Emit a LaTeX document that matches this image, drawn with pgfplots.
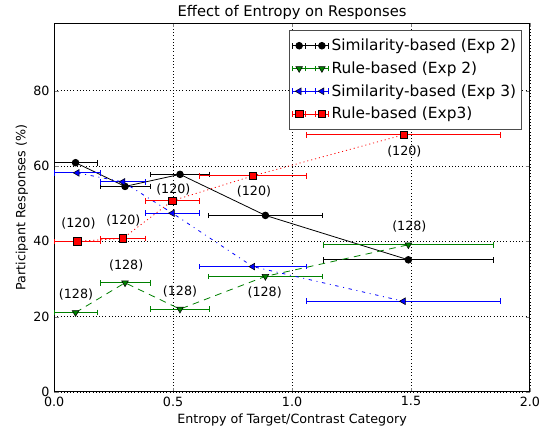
\documentclass[border=0pt]{standalone}
\usepackage{fontspec}
\setmainfont{DejaVu Sans}
\usepackage{pgfplots}
\pgfplotsset{compat=1.18}
\definecolor{mplgreen}{RGB}{0,128,0}

% legend sample: two markers, each with its own x error bar
\pgfplotsset{
  errleg/.style={legend image code/.code={
    \draw[##1, solid, mark=none] (0pt,0pt) -- (27pt,0pt);
    \draw[##1, solid, mark=none] (0pt,-2.1pt) -- (0pt,2.1pt) (10pt,-2.1pt) -- (10pt,2.1pt)
      (17pt,-2.1pt) -- (17pt,2.1pt) (27pt,-2.1pt) -- (27pt,2.1pt);
    \draw[##1, only marks] plot coordinates {(5pt,0pt) (22pt,0pt)};
  }},
  xerr/.style={error bars/.cd, x dir=both, x explicit,
    error bar style={solid, line width=0.6pt, color=#1},
    error mark=|, error mark options={solid, line width=0.6pt, mark size=2.1pt, color=#1},
    /pgfplots/.cd},
}

\begin{document}
\begin{tikzpicture}
\begin{axis}[
  scale only axis,
  width=356pt, height=276pt,
  xmin=0, xmax=2, ymin=0, ymax=98,
  xtick={0,0.5,1,1.5,2}, ytick={0,20,40,60,80},
  xticklabel style={/pgf/number format/.cd, fixed, fixed zerofill, precision=1},
  /pgf/number format/assume math mode=true,
  tick label style={font=\fontsize{9.5}{11}\selectfont},
  label style={font=\fontsize{9.5}{11}\selectfont},
  major tick length=3.3pt,
  axis line style={line width=0.7pt},
  grid=major, grid style={black, dotted, line width=0.5pt},
  title={Effect of Entropy on Responses},
  title style={font=\fontsize{11}{13}\selectfont, yshift=-7pt},
  xlabel={Entropy of Target/Contrast Category},
  ylabel={Participant Responses (\%)},
  xlabel style={yshift=1pt},
  ylabel style={yshift=-3pt},
  legend style={at={(1,1)}, anchor=north east, xshift=-6pt, yshift=-5pt,
    font=\fontsize{11.5}{13}\selectfont, draw=black!70, line width=0.7pt,
    row sep=2.8pt, inner xsep=2pt, inner ysep=4.5pt},
  legend cell align=left,
]
\addplot[errleg, black, line width=0.6pt, mark=*, mark size=2.5pt,
  mark options={solid, fill=black, draw=black}, xerr=black]
  coordinates {
  (0.090,60.9) +- (0.090,0)
  (0.298,54.6) +- (0.105,0)
  (0.529,57.8) +- (0.123,0)
  (0.888,46.9) +- (0.238,0)
  (1.489,35.1) +- (0.357,0)
};
\addlegendentry{Similarity-based (Exp 2)}

\addplot[errleg, mplgreen, line width=0.6pt, dash pattern=on 5pt off 4pt,
  mark=triangle*, mark size=2.9pt,
  mark options={solid, rotate=180, fill=mplgreen, draw=black, line width=0.4pt},
  xerr=mplgreen]
  coordinates {
  (0.090,21.1) +- (0.090,0)
  (0.298,29.0) +- (0.105,0)
  (0.529,22.0) +- (0.123,0)
  (0.888,30.7) +- (0.238,0)
  (1.489,39.1) +- (0.357,0)
};
\addlegendentry{Rule-based (Exp 2)}

\addplot[errleg, blue, line width=0.6pt, dash pattern=on 2.5pt off 3.5pt on 0.7pt off 3.5pt,
  mark=triangle*, mark size=2.9pt,
  mark options={solid, rotate=90, fill=blue, draw=black, line width=0.4pt},
  xerr=blue]
  coordinates {
  (0.097,58.2) +- (0.097,0)
  (0.289,55.8) +- (0.096,0)
  (0.497,47.5) +- (0.112,0)
  (0.835,33.3) +- (0.224,0)
  (1.468,24.1) +- (0.409,0)
};
\addlegendentry{Similarity-based (Exp 3)}

\addplot[errleg, red, line width=0.6pt, dash pattern=on 0.8pt off 2.2pt,
  mark=square*, mark size=2.7pt,
  mark options={solid, fill=red, draw=black, line width=0.4pt},
  xerr=red]
  coordinates {
  (0.097,40.0) +- (0.097,0)
  (0.289,40.8) +- (0.096,0)
  (0.497,50.8) +- (0.112,0)
  (0.835,57.4) +- (0.224,0)
  (1.468,68.3) +- (0.409,0)
};
\addlegendentry{Rule-based (Exp3)}

\begin{scope}[font=\fontsize{9.5}{11}\selectfont]
\node at (axis cs:0.102,44.7) {(120)};
\node at (axis cs:0.291,45.5) {(120)};
\node at (axis cs:0.501,53.8) {(120)};
\node at (axis cs:0.840,53.3) {(120)};
\node at (axis cs:1.472,64.0) {(120)};
\node at (axis cs:0.092,25.9) {(128)};
\node at (axis cs:0.303,33.6) {(128)};
\node at (axis cs:0.529,26.7) {(128)};
\node at (axis cs:0.885,26.5) {(128)};
\node at (axis cs:1.493,44.0) {(128)};
\end{scope}
\end{axis}
\pgfresetboundingbox
\path[use as bounding box] ([shift={(-40.5pt,-27.2pt)}]current axis.south west)
  rectangle ([shift={(14.25pt,17.25pt)}]current axis.north east);
\end{tikzpicture}
\end{document}
